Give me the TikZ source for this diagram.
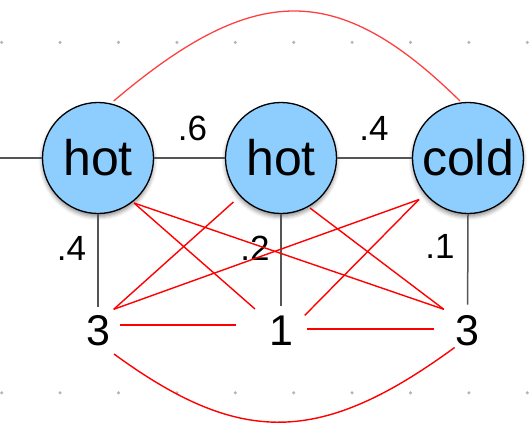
\documentclass[tikz,border=0pt]{standalone}
\usepackage{fontspec}
\setmainfont{Liberation Sans}
\usetikzlibrary{shadows.blur}
\definecolor{stateblue}{HTML}{8DCEFF}
\definecolor{chaingray}{HTML}{555555}
\definecolor{gridgray}{HTML}{B4B4B4}
\begin{document}
\begin{tikzpicture}[x=1pt,y=-1pt,
  state/.style={circle, draw=black, line width=1.3pt, fill=stateblue,
    minimum size=111pt, inner sep=0pt, font=\fontsize{50}{54}\selectfont,
    blur shadow={shadow xshift=0pt, shadow yshift=-3pt,
      shadow blur radius=4pt, shadow opacity=45}},
  obs/.style={inner sep=0pt, font=\fontsize{43}{47}\selectfont},
  prob/.style={inner sep=0pt, font=\fontsize{35}{39}\selectfont},
  chain/.style={draw=chaingray, line width=1.5pt},
  link/.style={draw=red, line width=1.4pt},
  softlink/.style={draw=red!75!white, line width=1.3pt}
]
\useasboundingbox (0,0) rectangle (532,434);

% background dot grid
\foreach \i in {0,...,9} {
  \fill[gridgray] (1.7+58.4*\i, 42.4) circle[radius=1.7pt];
  \fill[gridgray] (1.7+58.4*\i, 392.8) circle[radius=1.7pt];
}

% hidden states
\node[state] (h1) at (98,158) {hot};
\node[state] (h2) at (281,158) {hot};
\node[state] (c3) at (468,158) {cold};

% observations
\node[obs] (o1) at (98,331) {3};
\node[obs] (o2) at (281,331) {1};
\node[obs] (o3) at (467.6,331) {3};

% chain edges
\coordinate (src) at (0,158);
\draw[chain] (src) -- (h1);
\draw[chain] (h1) -- (h2);
\draw[chain] (h2) -- (c3);
\draw[chain] (h1.south) -- ([shift={(0,-24)}]o1.center);
\draw[chain] (h2.south) -- ([shift={(0,-25)}]o2.center);
\draw[chain] (c3.south) -- ([shift={(0,-26.5)}]o3.center);

% probabilities
\node[prob] (p12) at (192.5,128) {.6};
\node[prob] (p23) at (374,128) {.4};
\node[prob] (e1) at (71.5,248) {.4};
\node[prob] (e2) at (255,248) {.2};
\node[prob] (e3) at (440,246.5) {.1};

% cross links
\draw[link] ([shift={(36,45)}]h1.center) -- ([shift={(-26,-22)}]o2.center);
\draw[link] ([shift={(36,45)}]h1.center) -- ([shift={(-23.8,-21.7)}]o3.center);
\draw[link] ([shift={(-47.6,44)}]h2.center) -- ([shift={(15.7,-21.7)}]o1.center);
\draw[link] ([shift={(29,50)}]h2.center) -- ([shift={(-23.8,-21.7)}]o3.center);
\draw[link] ([shift={(-49,41.5)}]c3.center) -- ([shift={(15.7,-21.7)}]o1.center);
\draw[link] ([shift={(-49,41.5)}]c3.center) -- ([shift={(23.7,-15.6)}]o2.center);
\draw[link] ([shift={(22,-6)}]o1.center) -- ([shift={(-45,-6)}]o2.center);
\draw[link] ([shift={(26,-2)}]o2.center) -- ([shift={(-34,-2)}]o3.center);

% long-range arcs
\draw[softlink] ([shift={(15.7,-57)}]h1.center)
  .. controls (255,-19) and (338,-19) .. ([shift={(-8,-57)}]c3.center);
\draw[link] ([shift={(16,23)}]o1.center)
  .. controls (240,446) and (320,446) .. ([shift={(-13,16.5)}]o3.center);
\end{tikzpicture}
\end{document}
